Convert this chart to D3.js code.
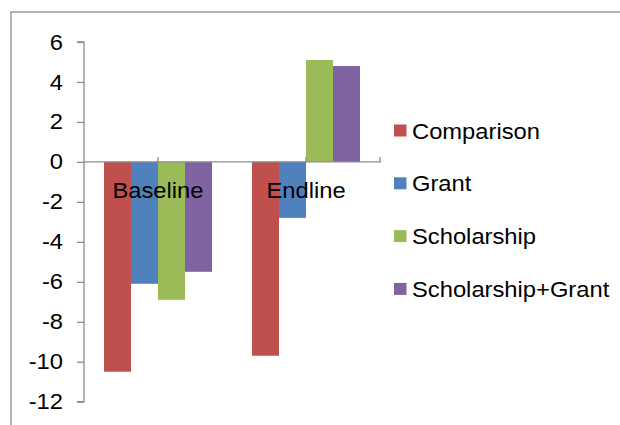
<!DOCTYPE html>
<html>
<head>
<meta charset="utf-8">
<script src="https://cdn.jsdelivr.net/npm/d3@7"></script>
<style>
html,body{margin:0;padding:0;background:#fff;}
svg{display:block;}
text{font-family:"Liberation Sans",Arial,sans-serif;fill:#000;}
</style>
</head>
<body>
<svg id="chart" width="620" height="425"></svg>
<script>
const categories = ["Baseline", "Endline"];
const seriesNames = ["Comparison", "Grant", "Scholarship", "Scholarship+Grant"];
const comparison = [-10.5, -9.7];
const grant = [-6.1, -2.8];
const scholarship = [-6.9, 5.1];
const scholarshipGrant = [-5.5, 4.8];
const yTicks = [6, 4, 2, 0, -2, -4, -6, -8, -10, -12];
const colors = ["#C0504D", "#4F81BD", "#9BBB59", "#8064A2"];

const seriesValues = [comparison, grant, scholarship, scholarshipGrant];
const FS = 22, SX = 1.08;
const svg = d3.select("#chart");

// outer border (extends beyond the visible area on right/bottom)
svg.append("rect").attr("x", 11).attr("y", 12).attr("width", 700).attr("height", 500)
  .attr("fill", "none").attr("stroke", "#8c8c8c").attr("stroke-width", 1.3);

const y = d3.scaleLinear().domain([-12, 6]).range([401.7, 42]);
const x0 = d3.scaleBand().domain(categories).range([84, 380]).paddingInner(0).paddingOuter(0);
const x1 = d3.scaleBand().domain(seriesNames).range([0, x0.bandwidth()]).paddingInner(0).paddingOuter(0.74);

// bars
categories.forEach((c, ci) => {
  seriesNames.forEach((s, si) => {
    const v = seriesValues[si][ci];
    svg.append("rect")
      .attr("x", x0(c) + x1(s))
      .attr("y", y(Math.max(0, v)))
      .attr("width", x1.bandwidth())
      .attr("height", Math.abs(y(v) - y(0)))
      .attr("fill", colors[si]);
  });
});

// y axis
const yAxis = svg.append("g").attr("transform", "translate(84,0)")
  .call(d3.axisLeft(y).tickValues(yTicks).tickSize(7).tickPadding(14).tickFormat(d => String(d)));
yAxis.select(".domain").attr("stroke", "#8c8c8c").attr("stroke-width", 1.3).attr("d", `M-7,${y(6)}H0V${y(-12)}H-7`);
yAxis.selectAll(".tick line").attr("stroke", "#8c8c8c").attr("stroke-width", 1.3);
yAxis.selectAll(".tick text").attr("font-size", FS).attr("font-family", "Liberation Sans, Arial, sans-serif")
  .attr("fill", "#000")
  .each(function() {
    const t = d3.select(this);
    t.attr("transform", `translate(-21,0) scale(${SX},1)`).attr("x", 0).attr("text-anchor", "end");
  });

// x axis at zero
svg.append("line").attr("x1", 84).attr("x2", 381).attr("y1", y(0)).attr("y2", y(0))
  .attr("stroke", "#8c8c8c").attr("stroke-width", 1.3);
const xTickPos = categories.map(c => x0(c) + x0.bandwidth() / 2).concat([x0.range()[1]]);
svg.selectAll(".xtick").data(xTickPos).enter().append("line")
  .attr("x1", d => d).attr("x2", d => d).attr("y1", y(0)).attr("y2", y(0) - 5)
  .attr("stroke", "#8c8c8c").attr("stroke-width", 1.3);

// category labels
svg.selectAll(".catlabel").data(categories).enter().append("text")
  .attr("text-anchor", "middle").attr("font-size", FS)
  .attr("transform", d => `translate(${x0(d) + x0.bandwidth() / 2},198) scale(${SX},1)`)
  .text(d => d);

// legend
const lg = svg.append("g");
seriesNames.forEach((s, i) => {
  const cy = 130.5 + i * 52.8;
  lg.append("rect").attr("x", 394).attr("y", cy - 6).attr("width", 12.5).attr("height", 12).attr("fill", colors[i]);
  lg.append("text").attr("font-size", FS)
    .attr("transform", `translate(412,${cy + 8}) scale(${SX},1)`).text(s);
});
</script>
</body>
</html>
